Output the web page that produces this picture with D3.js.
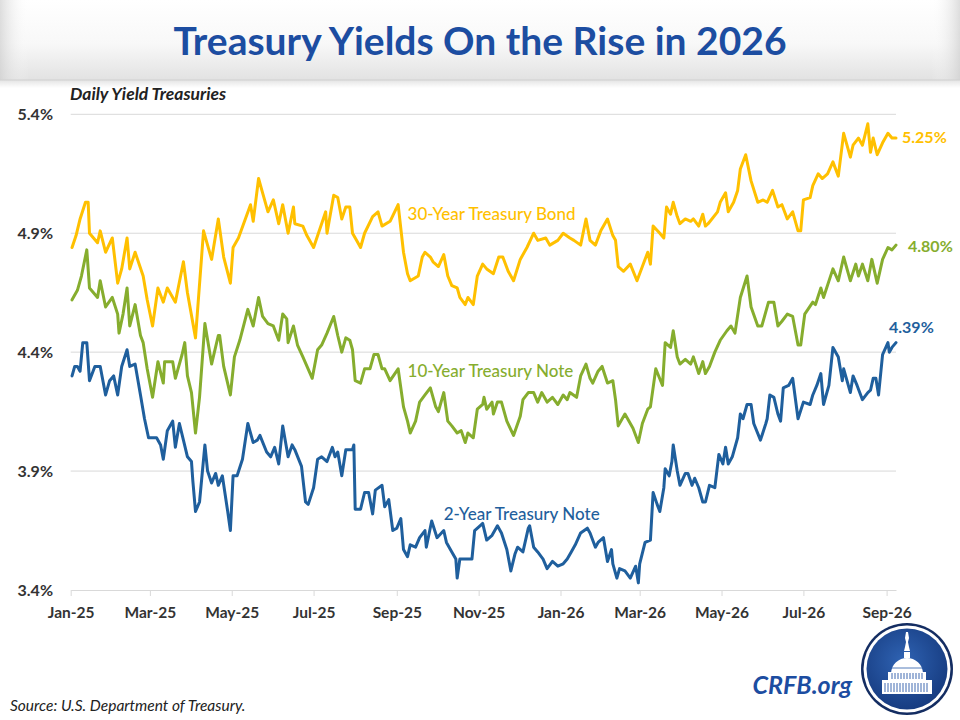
<!DOCTYPE html>
<html>
<head>
<meta charset="utf-8">
<script src="https://cdn.jsdelivr.net/npm/d3@7/dist/d3.min.js"></script>
<style>
  html, body { margin: 0; padding: 0; background: #ffffff; }
  svg { display: block; }
</style>
</head>
<body>
<svg id="chart" width="960" height="720"></svg>
<script>
// ---------------- DATA ----------------
const titleText = "Treasury Yields On the Rise in 2026";
const subtitleText = "Daily Yield Treasuries";
const sourceText = "Source: U.S. Department of Treasury.";
const brandText = "CRFB.org";
const yTicks = [3.4, 3.9, 4.4, 4.9, 5.4];
const seriesNames = ["30-Year Treasury Bond", "10-Year Treasury Note", "2-Year Treasury Note"];
const endLabels = ["5.25%", "4.80%", "4.39%"];
const startDate = "2025-01-01";
const endDate = "2026-09-08";

// [days after Jan 1 2025, yield %]
const bond30 = [[1,4.84],[4,4.89],[7,4.96],[11,5.03],[13,5.03],[14,4.90],[20,4.86],[22,4.91],[26,4.82],[31,4.88],[35,4.69],[38,4.75],[42,4.88],[44,4.75],[48,4.82],[54,4.72],[57,4.62],[61,4.51],[65,4.67],[69,4.61],[72,4.67],[78,4.61],[84,4.78],[87,4.65],[93,4.46],[99,4.91],[105,4.79],[110,4.96],[114,4.80],[119,4.69],[121,4.84],[125,4.88],[134,5.02],[136,4.95],[140,5.13],[143,5.07],[147,4.99],[151,5.04],[155,4.94],[158,5.02],[162,4.90],[166,5.01],[167,4.94],[173,4.93],[176,4.89],[181,4.84],[190,4.99],[191,4.90],[196,5.06],[199,5.05],[202,4.96],[205,5.01],[208,5.01],[210,4.90],[213,4.87],[216,4.84],[219,4.90],[225,4.97],[229,4.99],[232,4.93],[238,4.95],[244,5.02],[248,4.82],[251,4.73],[253,4.70],[259,4.72],[262,4.80],[264,4.82],[268,4.80],[270,4.78],[274,4.76],[278,4.81],[281,4.72],[284,4.68],[288,4.67],[290,4.63],[294,4.60],[296,4.63],[300,4.60],[303,4.72],[307,4.77],[310,4.75],[315,4.73],[319,4.80],[322,4.80],[326,4.74],[330,4.70],[335,4.79],[340,4.84],[345,4.90],[348,4.87],[354,4.88],[357,4.85],[363,4.87],[367,4.90],[372,4.88],[375,4.87],[380,4.85],[384,4.96],[387,4.87],[391,4.85],[395,4.91],[400,4.96],[404,4.89],[406,4.87],[408,4.76],[412,4.74],[417,4.77],[422,4.70],[426,4.76],[430,4.82],[432,4.77],[434,4.93],[439,4.90],[442,4.88],[444,5.01],[447,4.98],[449,5.03],[452,4.97],[454,4.94],[458,4.96],[462,4.95],[464,4.96],[468,4.93],[471,4.98],[473,4.93],[475,4.94],[482,4.99],[484,5.03],[488,5.07],[490,4.99],[494,5.03],[497,5.08],[499,5.17],[503,5.23],[507,5.12],[512,5.03],[516,5.04],[519,5.03],[523,5.08],[527,5.01],[530,5.02],[534,4.96],[538,4.99],[542,4.91],[544,4.91],[546,5.04],[551,5.05],[553,5.10],[557,5.15],[560,5.13],[564,5.15],[568,5.20],[572,5.14],[576,5.32],[581,5.22],[583,5.27],[587,5.30],[590,5.27],[594,5.36],[596,5.24],[598,5.30],[601,5.23],[605,5.28],[609,5.32],[612,5.30],[615,5.30]];

const note10 = [[1,4.62],[5,4.66],[8,4.72],[12,4.83],[14,4.67],[20,4.63],[22,4.70],[26,4.59],[31,4.63],[35,4.56],[36,4.48],[39,4.56],[42,4.67],[44,4.51],[48,4.60],[52,4.47],[54,4.44],[57,4.33],[61,4.21],[65,4.36],[69,4.27],[70,4.36],[76,4.36],[78,4.29],[83,4.39],[85,4.44],[87,4.30],[90,4.23],[93,4.06],[96,4.21],[100,4.52],[105,4.35],[110,4.47],[111,4.47],[114,4.34],[119,4.22],[122,4.38],[126,4.45],[132,4.58],[136,4.51],[140,4.63],[143,4.55],[147,4.52],[151,4.51],[155,4.45],[158,4.56],[161,4.54],[162,4.44],[166,4.51],[169,4.43],[173,4.38],[180,4.29],[184,4.41],[187,4.43],[191,4.48],[196,4.55],[199,4.47],[202,4.40],[205,4.46],[208,4.45],[210,4.41],[212,4.28],[216,4.27],[219,4.33],[223,4.33],[226,4.39],[229,4.39],[232,4.33],[234,4.33],[238,4.28],[244,4.33],[248,4.17],[251,4.11],[253,4.06],[257,4.11],[260,4.19],[264,4.22],[268,4.25],[272,4.17],[274,4.15],[278,4.23],[281,4.11],[284,4.09],[288,4.06],[291,4.07],[294,4.02],[296,4.06],[300,4.04],[303,4.16],[307,4.18],[308,4.21],[310,4.16],[314,4.19],[315,4.14],[318,4.19],[321,4.19],[325,4.11],[330,4.05],[335,4.13],[337,4.20],[341,4.23],[345,4.23],[348,4.19],[351,4.23],[355,4.19],[359,4.21],[363,4.18],[367,4.22],[370,4.20],[372,4.23],[377,4.21],[380,4.30],[384,4.35],[387,4.29],[389,4.27],[393,4.32],[396,4.34],[400,4.27],[404,4.28],[406,4.20],[408,4.09],[413,4.14],[419,4.08],[423,4.02],[426,4.10],[430,4.16],[432,4.17],[436,4.33],[441,4.26],[443,4.44],[447,4.42],[449,4.49],[452,4.38],[454,4.35],[458,4.37],[462,4.35],[464,4.38],[468,4.31],[471,4.36],[473,4.31],[476,4.34],[480,4.40],[484,4.45],[489,4.49],[492,4.51],[495,4.48],[499,4.63],[504,4.72],[507,4.59],[512,4.51],[515,4.51],[520,4.61],[524,4.61],[527,4.51],[530,4.53],[534,4.56],[538,4.55],[542,4.43],[544,4.43],[547,4.56],[553,4.61],[555,4.60],[559,4.67],[561,4.63],[568,4.75],[572,4.70],[576,4.80],[581,4.70],[585,4.77],[587,4.72],[590,4.77],[594,4.70],[597,4.79],[601,4.69],[605,4.79],[609,4.84],[612,4.83],[615,4.85]];

const note2 = [[1,4.30],[3,4.34],[5,4.34],[7,4.32],[9,4.44],[12,4.44],[14,4.28],[18,4.34],[22,4.34],[26,4.22],[29,4.28],[32,4.30],[35,4.22],[38,4.34],[42,4.41],[44,4.34],[48,4.35],[52,4.22],[55,4.12],[58,4.04],[61,4.04],[64,4.04],[67,4.01],[69,3.95],[72,4.07],[76,4.11],[78,4.00],[81,4.10],[84,4.03],[87,3.96],[90,3.94],[91,3.86],[93,3.73],[96,3.77],[100,4.01],[102,3.90],[105,3.85],[108,3.89],[110,3.84],[113,3.88],[117,3.73],[119,3.65],[121,3.88],[124,3.88],[128,3.95],[132,4.10],[136,4.02],[139,4.03],[141,4.05],[146,3.98],[149,3.96],[152,4.00],[155,3.93],[158,4.09],[162,3.96],[165,4.01],[167,3.99],[172,3.92],[175,3.77],[177,3.76],[181,3.83],[184,3.95],[187,3.96],[191,3.94],[195,4.00],[197,3.96],[199,3.98],[202,3.88],[205,3.99],[210,3.99],[211,4.01],[212,3.74],[216,3.74],[219,3.81],[222,3.81],[225,3.72],[227,3.82],[232,3.84],[234,3.75],[237,3.78],[240,3.65],[243,3.66],[246,3.70],[248,3.57],[251,3.54],[253,3.59],[257,3.58],[260,3.62],[264,3.65],[265,3.58],[269,3.69],[273,3.62],[278,3.65],[280,3.60],[284,3.56],[287,3.53],[288,3.45],[290,3.53],[295,3.53],[299,3.53],[301,3.65],[305,3.67],[307,3.68],[310,3.61],[314,3.63],[318,3.67],[321,3.64],[325,3.57],[328,3.48],[331,3.55],[333,3.58],[337,3.56],[341,3.66],[342,3.67],[345,3.58],[348,3.56],[352,3.53],[355,3.49],[359,3.52],[363,3.50],[367,3.51],[370,3.53],[373,3.56],[376,3.59],[380,3.64],[385,3.66],[387,3.64],[391,3.58],[393,3.60],[397,3.62],[400,3.52],[403,3.57],[404,3.51],[407,3.45],[409,3.49],[413,3.48],[417,3.45],[421,3.50],[423,3.43],[424,3.51],[428,3.60],[432,3.61],[434,3.81],[437,3.76],[439,3.73],[442,3.83],[443,3.91],[446,3.88],[448,3.94],[449,4.01],[452,3.90],[454,3.84],[458,3.89],[460,3.89],[463,3.84],[465,3.87],[468,3.83],[471,3.77],[473,3.77],[476,3.84],[480,3.83],[483,3.97],[486,3.93],[488,4.00],[490,3.93],[493,3.96],[497,4.04],[499,4.14],[501,4.12],[504,4.18],[507,4.18],[509,4.10],[514,4.03],[518,4.10],[519,4.12],[521,4.22],[524,4.21],[527,4.14],[529,4.11],[531,4.25],[535,4.26],[538,4.29],[542,4.12],[546,4.19],[551,4.18],[553,4.22],[556,4.26],[559,4.31],[561,4.18],[565,4.26],[568,4.42],[572,4.38],[575,4.28],[576,4.33],[581,4.23],[583,4.30],[586,4.26],[590,4.20],[594,4.23],[596,4.24],[598,4.29],[600,4.29],[602,4.22],[605,4.39],[609,4.44],[610,4.40],[612,4.42],[615,4.44]];

// ---------------- DRAW ----------------
const svg = d3.select("#chart");
const W = 960, H = 720;
const FONT = "Lato, 'Open Sans', 'DejaVu Sans', sans-serif";
const colors = ["#FFC000", "#86AD2E", "#1F5F9D"];
const titleBlue = "#1C4DA1";

const defs = svg.append("defs");
const gBand = defs.append("linearGradient").attr("id", "band").attr("x1", 0).attr("y1", 0).attr("x2", 0).attr("y2", 1);
gBand.append("stop").attr("offset", "0%").attr("stop-color", "#ffffff");
gBand.append("stop").attr("offset", "55%").attr("stop-color", "#f8f8f8");
gBand.append("stop").attr("offset", "100%").attr("stop-color", "#e2e2e2");
const gSide = defs.append("linearGradient").attr("id", "side").attr("x1", 0).attr("y1", 0).attr("x2", 1).attr("y2", 0);
gSide.append("stop").attr("offset", "0%").attr("stop-color", "#cfcfcf").attr("stop-opacity", 0.7);
gSide.append("stop").attr("offset", "3%").attr("stop-color", "#ffffff").attr("stop-opacity", 0);
gSide.append("stop").attr("offset", "97%").attr("stop-color", "#ffffff").attr("stop-opacity", 0);
gSide.append("stop").attr("offset", "100%").attr("stop-color", "#cfcfcf").attr("stop-opacity", 0.7);
const gShadow = defs.append("linearGradient").attr("id", "shadow").attr("x1", 0).attr("y1", 0).attr("x2", 0).attr("y2", 1);
gShadow.append("stop").attr("offset", "0%").attr("stop-color", "#e4e4e4");
gShadow.append("stop").attr("offset", "100%").attr("stop-color", "#ffffff");
const gLogo = defs.append("radialGradient").attr("id", "logoFill").attr("cx", "45%").attr("cy", "40%").attr("r", "65%");
gLogo.append("stop").attr("offset", "0%").attr("stop-color", "#2f63b3");
gLogo.append("stop").attr("offset", "100%").attr("stop-color", "#15397d");

svg.append("rect").attr("width", W).attr("height", H).attr("fill", "#ffffff");

// title band
svg.append("rect").attr("x", 0).attr("y", 0).attr("width", W).attr("height", 80).attr("fill", "url(#band)");
svg.append("rect").attr("x", 0).attr("y", 0).attr("width", W).attr("height", 80).attr("fill", "url(#side)");
svg.append("rect").attr("x", 0).attr("y", 80).attr("width", W).attr("height", 8).attr("fill", "url(#shadow)");
svg.append("line").attr("x1", 0).attr("x2", W).attr("y1", 80).attr("y2", 80).attr("stroke", "#d0d0d0").attr("stroke-width", 1);

svg.append("text").attr("x", 480).attr("y", 55).attr("text-anchor", "middle")
  .attr("font-family", FONT).attr("font-weight", 700).attr("font-size", 39)
  .attr("fill", titleBlue).text(titleText);

// scales
const parse = d3.timeParse("%Y-%m-%d");
const t0 = parse(startDate), t1 = parse(endDate);
const x = d3.scaleTime().domain([t0, t1]).range([70.7, 896]);
const y = d3.scaleLinear().domain([3.4, 5.4]).range([590, 114.3]);

// subtitle
svg.append("text").attr("x", 70).attr("y", 100)
  .attr("font-family", FONT).attr("font-weight", 700).attr("font-style", "italic").attr("font-size", 17.5)
  .attr("fill", "#222").text(subtitleText);

// gridlines
svg.append("g").selectAll("line").data(yTicks.filter(v => v > 3.4)).join("line")
  .attr("x1", 70.7).attr("x2", 896)
  .attr("y1", d => y(d)).attr("y2", d => y(d))
  .attr("stroke", "#d9d9d9").attr("stroke-width", 1);

// y labels
svg.append("g").selectAll("text").data(yTicks).join("text")
  .attr("x", 53).attr("y", d => y(d)).attr("dy", "0.36em").attr("text-anchor", "end")
  .attr("font-family", FONT).attr("font-weight", 700).attr("font-size", 16).attr("fill", "#333")
  .text(d => d.toFixed(1) + "%");

// x axis
const monthTicks = d3.timeMonth.every(2).range(t0, t1);
const xAxis = d3.axisBottom(x).tickValues(monthTicks).tickFormat(d3.timeFormat("%b-%y"))
  .tickSize(6).tickSizeOuter(0);
const gx = svg.append("g").attr("transform", "translate(0,590)").call(xAxis);
gx.select(".domain").attr("stroke", "#d9d9d9").attr("stroke-width", 1);
gx.selectAll(".tick line").attr("stroke", "#d9d9d9");
gx.selectAll(".tick text").attr("y", 17).attr("dy", "0.71em")
  .attr("font-family", FONT).attr("font-weight", 700).attr("font-size", 15.5).attr("fill", "#333");

// lines
const series = [bond30, note10, note2];
const toDate = d => d3.timeDay.offset(t0, d);
const line = d3.line().x(d => x(toDate(d[0]))).y(d => y(d[1]));
const order = [2, 1, 0];
svg.append("g").selectAll("path").data(order).join("path")
  .attr("d", i => line(series[i]))
  .attr("fill", "none").attr("stroke", i => colors[i])
  .attr("stroke-width", 3).attr("stroke-linejoin", "round").attr("stroke-linecap", "round");

// series name labels
const nameAnchors = [[251, 4.981], [251, 4.321], [278, 3.721]];
svg.append("g").selectAll("text").data(seriesNames).join("text")
  .attr("x", (d, i) => x(toDate(nameAnchors[i][0])))
  .attr("y", (d, i) => y(nameAnchors[i][1]))
  .attr("dy", "0.35em")
  .attr("font-family", FONT).attr("font-weight", 500).attr("font-size", 17)
  .attr("fill", (d, i) => colors[i]).text(d => d);

// end value labels
const endOffsets = [[6, -1], [12, 1], [-7, -15]];
svg.append("g").selectAll("text").data(endLabels).join("text")
  .attr("x", (d, i) => { const s = series[i]; return x(toDate(s[s.length - 1][0])) + endOffsets[i][0]; })
  .attr("y", (d, i) => { const s = series[i]; return y(s[s.length - 1][1]) + endOffsets[i][1]; })
  .attr("dy", "0.35em")
  .attr("font-family", FONT).attr("font-weight", 700).attr("font-size", 16)
  .attr("fill", (d, i) => colors[i]).text(d => d);

// footer
svg.append("text").attr("x", 10).attr("y", 711)
  .attr("font-family", FONT).attr("font-style", "italic").attr("font-size", 15.5)
  .attr("fill", "#222").text(sourceText);

svg.append("text").attr("x", 852).attr("y", 694).attr("text-anchor", "end")
  .attr("font-family", FONT).attr("font-weight", 700).attr("font-style", "italic").attr("font-size", 25)
  .attr("fill", titleBlue).text(brandText);

// logo
const logo = svg.append("g").attr("transform", "translate(907,669)");
logo.append("circle").attr("r", 46).attr("fill", "#142d62");
logo.append("circle").attr("r", 43.5).attr("fill", "#ffffff");
logo.append("circle").attr("r", 40.5).attr("fill", "url(#logoFill)");
const wc = "#ffffff";
logo.append("path").attr("d", "M-1,-37 L1,-37 L2,-31 L1,-27 L2,-22 L3,-18 L-3,-18 L-2,-22 L-1,-27 L-2,-31 Z").attr("fill", wc);
logo.append("rect").attr("x", -3).attr("y", -17).attr("width", 6).attr("height", 6).attr("fill", wc);
logo.append("path").attr("d", "M-16,5 C-16,-5 -8,-11 0,-11 C8,-11 16,-5 16,5 Z").attr("fill", wc);
logo.append("rect").attr("x", -19).attr("y", 3).attr("width", 38).attr("height", 8).attr("fill", wc);
logo.append("rect").attr("x", -25).attr("y", 11).attr("width", 50).attr("height", 14).attr("fill", wc);
logo.append("g").selectAll("line").data(d3.range(-15, 16, 3)).join("line")
  .attr("x1", d => d).attr("x2", d => d).attr("y1", 4).attr("y2", 10)
  .attr("stroke", "#2a5aa8").attr("stroke-width", 0.9);
logo.append("g").selectAll("line").data(d3.range(-22, 23, 3)).join("line")
  .attr("x1", d => d).attr("x2", d => d).attr("y1", 14).attr("y2", 23)
  .attr("stroke", "#2a5aa8").attr("stroke-width", 0.9);
logo.append("line").attr("x1", -16).attr("x2", 16).attr("y1", -1).attr("y2", -1).attr("stroke", "#2a5aa8").attr("stroke-width", 0.8);
</script>
</body>
</html>
